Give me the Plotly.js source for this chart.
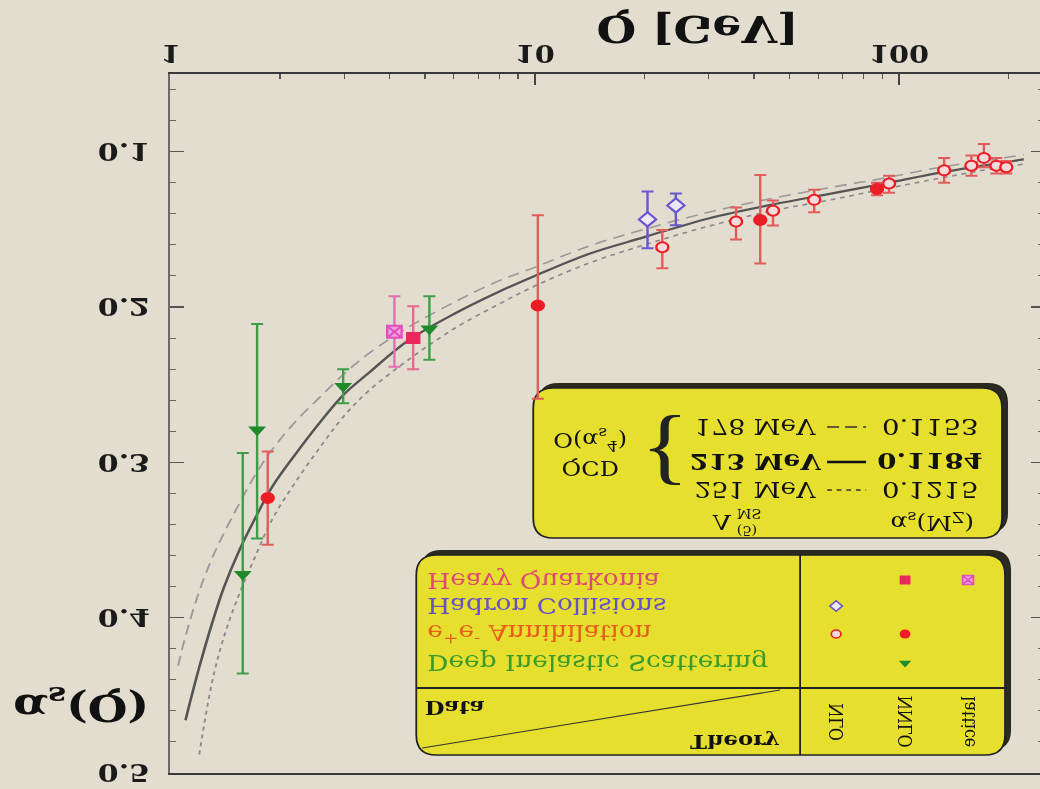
<!DOCTYPE html>
<html><head><meta charset="utf-8">
<script src="https://cdn.plot.ly/plotly-3.0.1.min.js"></script>
<style>
html,body{margin:0;padding:0;background:#e3ddd0;overflow:hidden;width:1040px;height:789px;}
#chart{position:absolute;left:0;top:0;width:875px;height:789px;transform-origin:0 0;transform:matrix(1.2,0,0,-1,0,789);filter:blur(0.6px);}
</style></head><body><div id="chart"></div>
<script>
// ---------- data ----------
const disQ = [1.58, 1.73, 2.98, 5.14];
const disA = [0.372, 0.279, 0.251, 0.214];
const disErrPlus = [0.064, 0.070, 0.011, 0.020];
const disErrMinus = [0.078, 0.068, 0.011, 0.021];

const eeNnloQ = [1.85, 10.2, 41.6, 87];
const eeNnloA = [0.323, 0.199, 0.144, 0.124];
const eeNnloErrPlus = [0.030, 0.060, 0.028, 0.004];
const eeNnloErrMinus = [0.030, 0.058, 0.029, 0.004];

const eeNloQ = [22.4, 35.7, 45.1, 58.5, 93.9, 133, 158, 171, 185, 197];
const eeNloA = [0.1615, 0.145, 0.138, 0.131, 0.1205, 0.112, 0.109, 0.104, 0.109, 0.110];
const eeNloErrPlus = [0.0135, 0.0115, 0.0095, 0.008, 0.006, 0.008, 0.0065, 0.006, 0.005, 0.004];
const eeNloErrMinus = [0.011, 0.009, 0.0065, 0.0065, 0.005, 0.008, 0.0065, 0.009, 0.005, 0.004];

const hadQ = [20.4, 24.4];
const hadA = [0.1436, 0.1346];
const hadErrPlus = [0.0186, 0.0128];
const hadErrMinus = [0.018, 0.0077];

const hqNnloQ = [4.64];
const hqNnloA = [0.220];
const hqNnloErrPlus = [0.020];
const hqNnloErrMinus = [0.0205];

const hqLatQ = [4.12];
const hqLatA = [0.216];
const hqLatErrPlus = [0.0225];
const hqLatErrMinus = [0.023];

// QCD curves
const curveQ = [1.05, 1.1, 1.2, 1.3, 1.4, 1.55, 1.7, 1.9, 2.2, 2.6, 3.0, 3.5, 4.5, 6, 8, 10, 14, 20, 30, 45, 65, 91.2, 130, 170, 220];
const curve178 = [0.431, 0.412, 0.383, 0.362, 0.346, 0.326, 0.309, 0.292, 0.274, 0.257, 0.243, 0.230, 0.213, 0.197, 0.183, 0.1745, 0.161, 0.150, 0.139, 0.130, 0.123, 0.117, 0.110, 0.106, 0.102];
const curve213 = [null, 0.466, 0.432, 0.404, 0.381, 0.356, 0.337, 0.316, 0.295, 0.273, 0.256, 0.2425, 0.2215, 0.2045, 0.190, 0.180, 0.166, 0.155, 0.143, 0.134, 0.127, 0.1205, 0.1135, 0.109, 0.105];
const curve251 = [null, null, 0.488, 0.442, 0.413, 0.384, 0.362, 0.337, 0.313, 0.289, 0.270, 0.254, 0.234, 0.214, 0.198, 0.1865, 0.172, 0.160, 0.148, 0.138, 0.131, 0.124, 0.117, 0.112, 0.108];

const xTickVals = [1, 10, 100];
const xTickText = ['1', '10', '100'];
const xMinorVals = [2,3,4,5,6,7,8,9,20,30,40,50,60,70,80,90,200];
const yTickVals = [0.1, 0.2, 0.3, 0.4, 0.5];
const yTickText = ['0.1', '0.2', '0.3', '0.4', '0.5'];
const yMinorVals = [0.06,0.08,0.12,0.14,0.16,0.18,0.22,0.24,0.26,0.28,0.32,0.34,0.36,0.38,0.42,0.44,0.46,0.48];

// ---------- styling ----------
const SERIF = 'DejaVu Serif, Liberation Serif, serif';
const BG = '#e3ddd0';
const YEL = '#e6df2e';
const GREEN = '#1f8a2a', GREEN_E = '#3f9d48';
const RED = '#ee1c24', RED_E = '#e25c5c';
const BLUE = '#6a56d0';
const PINK = '#e8285c', MAG = '#e050c0';

// reference plot box (pixel coords of the picture)
const Lr = 170, Rr = 1044, Tr = 74, Br = 773;
function px(x){ return (x - Lr) / (Rr - Lr); }
function py(y){ return (y - Tr) / (Br - Tr); }

function errY(plus, minus, color){
  return {type:'data', symmetric:false, array:plus, arrayminus:minus, color:color, thickness:2, width:5};
}

const traces = [
  {x:curveQ, y:curve178, mode:'lines', line:{color:'#9a9a9a', width:1.6, dash:'10px,6px', shape:'spline', smoothing:1}, hoverinfo:'skip'},
  {x:curveQ, y:curve251, mode:'lines', line:{color:'#8a8a8a', width:1.6, dash:'4px,4px', shape:'spline', smoothing:1}, hoverinfo:'skip'},
  {x:curveQ, y:curve213, mode:'lines', line:{color:'#555555', width:2.2, shape:'spline', smoothing:1}, hoverinfo:'skip'},
  {x:disQ, y:disA, mode:'markers', error_y:errY(disErrPlus, disErrMinus, GREEN_E),
   marker:{symbol:'triangle-up', size:13, color:GREEN}},
  {x:hadQ, y:hadA, mode:'markers', error_y:errY(hadErrPlus, hadErrMinus, BLUE),
   marker:{symbol:'diamond', size:11, color:'#ece8f6', line:{color:BLUE, width:2}}},
  {x:eeNloQ, y:eeNloA, mode:'markers', error_y:errY(eeNloErrPlus, eeNloErrMinus, RED_E),
   marker:{symbol:'circle', size:10, color:'#f6dada', line:{color:RED, width:2}}},
  {x:eeNnloQ, y:eeNnloA, mode:'markers', error_y:errY(eeNnloErrPlus, eeNnloErrMinus, RED_E),
   marker:{symbol:'circle', size:12, color:RED}},
  {x:hqLatQ, y:hqLatA, mode:'markers', error_y:errY(hqLatErrPlus, hqLatErrMinus, '#e070b0'),
   marker:{symbol:'square-x', size:12, color:'#f2a0d6', line:{color:MAG, width:2}}},
  {x:hqNnloQ, y:hqNnloA, mode:'markers', error_y:errY(hqNnloErrPlus, hqNnloErrMinus, '#e66a90'),
   marker:{symbol:'square', size:12, color:PINK}}
];

// legend keys drawn on a hidden overlay axis in paper units
function key(x, y, marker){
  traces.push({x:[px(x)], y:[py(y)], xaxis:'x2', yaxis:'y2', mode:'markers', marker:marker, hoverinfo:'skip'});
}
key(905, 580, {symbol:'square', size:9, color:PINK});
key(968, 580, {symbol:'square-x', size:9, color:'#f2a0d6', line:{color:MAG, width:1.5}});
key(836, 606, {symbol:'diamond', size:8, color:'#ece8f6', line:{color:BLUE, width:1.5}});
key(836, 634, {symbol:'circle', size:8, color:'#f6dada', line:{color:RED, width:1.5}});
key(905, 634, {symbol:'circle', size:9, color:RED});
key(905, 663, {symbol:'triangle-up', size:9, color:GREEN});

// ---------- boxes ----------
function roundRect(x0, y0, x1, y1, r){
  const X0 = px(x0), X1 = px(x1), Y0 = py(y0), Y1 = py(y1);
  const rx = r / (Rr - Lr), ry = r / (Br - Tr);
  const ylo = Math.min(Y0, Y1), yhi = Math.max(Y0, Y1);
  return `M ${X0+rx},${ylo} L ${X1-rx},${ylo} Q ${X1},${ylo} ${X1},${ylo+ry} L ${X1},${yhi-ry} Q ${X1},${yhi} ${X1-rx},${yhi} L ${X0+rx},${yhi} Q ${X0},${yhi} ${X0},${yhi-ry} L ${X0},${ylo+ry} Q ${X0},${ylo} ${X0+rx},${ylo} Z`;
}
function seg(x0, y0, x1, y1, line){
  return {type:'line', xref:'paper', yref:'paper', x0:px(x0), y0:py(y0), x1:px(x1), y1:py(y1), line:line, layer:'above'};
}
const shapes = [
  {type:'path', xref:'paper', yref:'paper', path:roundRect(538, 383, 1008, 533, 20), fillcolor:'#2a2a20', line:{width:0}, layer:'below'},
  {type:'path', xref:'paper', yref:'paper', path:roundRect(533, 388, 1002, 538, 20), fillcolor:YEL, line:{color:'#222', width:1.5}, layer:'below'},
  {type:'path', xref:'paper', yref:'paper', path:roundRect(421, 550, 1011, 750, 20), fillcolor:'#2a2a20', line:{width:0}, layer:'below'},
  {type:'path', xref:'paper', yref:'paper', path:roundRect(416, 555, 1005, 755, 20), fillcolor:YEL, line:{color:'#222', width:1.5}, layer:'below'},
  seg(800, 555, 800, 755, {color:'#222', width:1.5}),
  seg(416, 688, 1005, 688, {color:'#222', width:2}),
  seg(422, 748, 780, 690, {color:'#333', width:1}),
  seg(827, 427, 866, 427, {color:'#333', width:1.5, dash:'10px,5px'}),
  seg(827, 462, 866, 462, {color:'#111', width:2.5}),
  seg(827, 490, 866, 490, {color:'#333', width:1.5, dash:'4px,4px'})
];

// ---------- texts ----------
const ann = [];
function T(text, x, y, o){
  o = o || {};
  ann.push({text:text, x:px(x), y:py(y), xref:'paper', yref:'paper', showarrow:false,
    xanchor:o.xanchor || 'center', yanchor:'middle', textangle:o.angle || 0,
    font:{family:o.family || SERIF, size:o.size || 20, color:o.color || '#111', weight:o.weight || 'normal'}});
}
// axis titles
T('Q [GeV]', 697, 30, {size:38, weight:'bold'});
T('α<sub>s</sub>(Q)', 80, 706, {size:38, weight:'bold'});
// theory box
T('QCD', 590, 468, {size:20});
T('O(α<sub>s</sub><sup>4</sup>)', 590, 440, {size:20});
T('{', 665, 455, {size:84, color:'#222', family:'Liberation Serif, serif'});
T('178 MeV', 756, 427, {size:22});
T('213 MeV', 756, 462, {size:22, weight:'bold'});
T('251 MeV', 756, 490, {size:22});
T('0.1153', 930, 427, {size:23});
T('0.1184', 930, 462, {size:23, weight:'bold'});
T('0.1215', 930, 490, {size:23});
T('Λ', 722, 522, {size:21});
T('(5)', 747, 530, {size:12});
T('MS', 749, 513, {size:12});
T('α<sub>s</sub>(M<sub>Z</sub>)', 932, 522, {size:21});
// data box
T('Heavy Quarkonia', 425, 580, {xanchor:'left', color:'#e04a72', size:22});
T('Hadron Collisions', 425, 606, {xanchor:'left', color:'#6a50c8', size:22});
T('e<sup>+</sup>e<sup>-</sup> Annihilation', 425, 634, {xanchor:'left', color:'#e85c1c', size:22});
T('Deep Inelastic Scattering', 425, 663, {xanchor:'left', color:'#3a9a2a', size:22});
T('Data', 455, 708, {size:19, weight:'bold'});
T('Theory', 735, 742, {size:19, weight:'bold'});
T('NLO', 836, 722, {size:16, angle:-90});
T('NNLO', 905, 722, {size:16, angle:-90});
T('lattice', 968, 722, {size:16, angle:-90});

const layout = {
  width:875, height:789,
  margin:{l:Lr/1.2, r:875 - Rr/1.2, t:789 - Br, b:Tr, pad:0},
  paper_bgcolor:BG, plot_bgcolor:'rgba(0,0,0,0)',
  showlegend:false,
  xaxis:{type:'log', range:[0, Math.log10(250)], tickmode:'array', tickvals:xTickVals, ticktext:xTickText,
    ticks:'inside', ticklen:11, tickwidth:1.5, tickcolor:'#444', showline:true, linecolor:'#3a3a3a', linewidth:2,
    mirror:true, showgrid:false, zeroline:false, ticklabelstandoff:-2,
    tickfont:{family:SERIF, size:24, color:'#1a1a1a', weight:'bold'},
    minor:{tickmode:'array', tickvals:xMinorVals, ticks:'inside', ticklen:5, tickcolor:'#555', tickwidth:1, showgrid:false}},
  yaxis:{range:[0.05, 0.5], tickmode:'array', tickvals:yTickVals, ticktext:yTickText,
    ticks:'inside', ticklen:11, tickwidth:1.5, tickcolor:'#555', showline:true, linecolor:'#6a6a6a', linewidth:2,
    mirror:'ticks', showgrid:false, zeroline:false, ticklabelstandoff:10,
    tickfont:{family:SERIF, size:25, color:'#1a1a1a', weight:'bold'},
    minor:{tickmode:'array', tickvals:yMinorVals, ticks:'inside', ticklen:5, tickcolor:'#666', tickwidth:1, showgrid:false}},
  xaxis2:{overlaying:'x', anchor:'y2', range:[0,1], visible:false, fixedrange:true},
  yaxis2:{overlaying:'y', anchor:'x2', range:[0,1], visible:false, fixedrange:true},
  shapes:shapes,
  annotations:ann
};

Plotly.newPlot('chart', traces, layout, {displayModeBar:false, staticPlot:true});
</script></body></html>
